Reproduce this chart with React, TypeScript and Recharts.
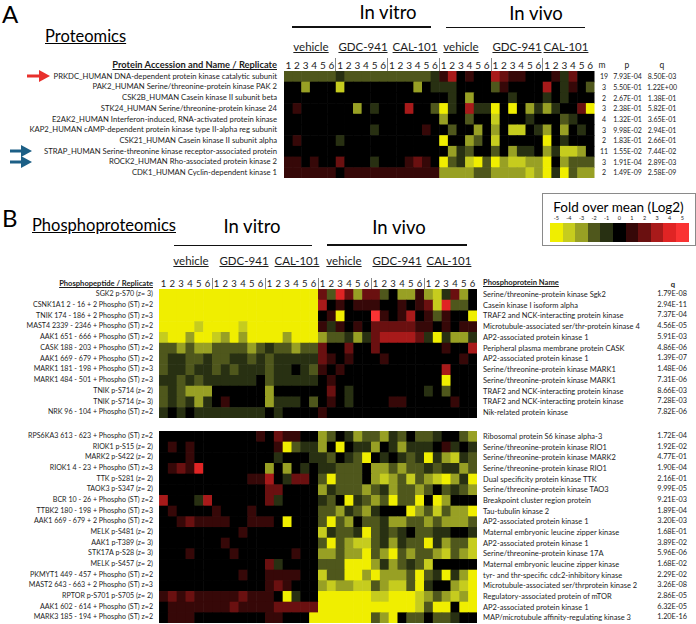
import React from 'react';
import { ScatterChart, Scatter, XAxis, YAxis, ReferenceLine } from 'recharts';

// level codes: a..e = -5..-1 (yellow side), 0 = black, 1..5 = red side
const LEVEL_CODES = 'abcde012345';
const LEVEL_LABELS = ['-5', '-4', '-3', '-2', '-1', '0', '1', '2', '3', '4', '5'];
const LEVEL_COLORS = [
  '#f0ee00', '#c6cc1e', '#98a024', '#4f571c', '#283012', '#000000',
  '#360808', '#6a1010', '#a81a1a', '#e02424', '#fa3333',
];

const REPLICATES = ['1', '2', '3', '4', '5', '6'];
const GROUPS = ['vehicle', 'GDC-941', 'CAL-101', 'vehicle', 'GDC-941', 'CAL-101'];

// ---- panel A: proteomics ----
const proteinNames = [
  'PRKDC_HUMAN DNA-dependent protein kinase catalytic subunit',
  'PAK2_HUMAN Serine/threonine-protein kinase PAK 2',
  'CSK2B_HUMAN Casein kinase II subunit beta',
  'STK24_HUMAN Serine/threonine-protein kinase 24',
  'E2AK2_HUMAN Interferon-induced, RNA-activated protein kinase',
  'KAP2_HUMAN cAMP-dependent protein kinase type II-alpha reg subunit',
  'CSK21_HUMAN Casein kinase II subunit alpha',
  'STRAP_HUMAN Serine-threonine kinase receptor-associated protein',
  'ROCK2_HUMAN Rho-associated protein kinase 2',
  'CDK1_HUMAN Cyclin-dependent kinase 1',
];
const proteinM = ['19', '3', '2', '3', '4', '3', '2', '11', '3', '2'];
const proteinP = ['7.93E-04', '5.50E-01', '2.67E-01', '2.38E-01', '1.32E-01', '9.98E-02', '1.83E-01', '1.55E-02', '1.91E-04', '1.49E-09'];
const proteinQ = ['8.50E-03', '1.22E+00', '1.38E-01', '5.82E-01', '3.65E-01', '2.94E-01', '2.66E-01', '7.44E-02', '2.89E-03', '2.58E-09'];
const proteinCells = [
  'dddddd' + 'eddddd' + 'ddddde' + '130100' + '321100' + '01e200',
  '00c000' + 'b00000' + '000c0e' + 'ee0000' + 'd10000' + '30e10d',
  '000000' + '000000' + '000000' + '0e0c00' + '00e000' + 'e0e000',
  '010000' + '00c0e0' + '00300d' + 'ae03ee' + 'a0a0ce' + 'ce002a',
  '000000' + '000000' + '000000' + 'c00d00' + 'b000e0' + '00de00',
  '000000' + '0000e0' + '000010' + '0d00c0' + 'c0bb0e' + 'c0c0e0',
  '010000' + 'e00000' + '000000' + 'a00cd0' + 'b00000' + 'a0e000',
  '000000' + '000000' + '000000' + '0ced00' + 'd0cee0' + 'cebbc0',
  '110100' + '2000e0' + '001210' + 'adebad' + 'acbbcc' + 'a0cddd',
  '111111' + '011111' + '111111' + 'ccccdd' + 'ccccbc' + 'aeadcc',
];

// ---- panel B: phosphoproteomics, upper block ----
const topPeptides = [
  'SGK2 p-S70 (z= 3)',
  'CSNK1A1 2 - 16 + 2 Phospho (ST) z=2',
  'TNIK 174 - 186 + 2 Phospho (ST) z=3',
  'MAST4 2339 - 2346 + Phospho (ST) z=2',
  'AAK1 651 - 666 + Phospho (ST) z=2',
  'CASK 188 - 203 + Phospho (ST) z=2',
  'AAK1 669 - 679 + Phospho (ST) z=2',
  'MARK1 181 - 198 + Phospho (ST) z=3',
  'MARK1 484 - 501 + Phospho (ST) z=3',
  'TNIK p-S714 (z= 2)',
  'TNIK p-S714 (z= 3)',
  'NRK 96 - 104 + Phospho (ST) z=2',
];
const topProteins = [
  'Serine/threonine-protein kinase Sgk2',
  'Casein kinase I isoform alpha',
  'TRAF2 and NCK-interacting protein kinase',
  'Microtubule-associated ser/thr-protein kinase 4',
  'AP2-associated protein kinase 1',
  'Peripheral plasma membrane protein CASK',
  'AP2-associated protein kinase 1',
  'Serine/threonine-protein kinase MARK1',
  'Serine/threonine-protein kinase MARK1',
  'TRAF2 and NCK-interacting protein kinase',
  'TRAF2 and NCK-interacting protein kinase',
  'Nik-related protein kinase',
];
const topQ = ['1.79E-08', '2.94E-11', '7.37E-04', '4.56E-05', '5.91E-03', '4.86E-06', '1.39E-07', '1.48E-06', '7.31E-06', '8.66E-03', '7.28E-03', '7.82E-06'];
const topCells = [
  'aaaaaa' + 'aaaaaa' + 'aaaaaa' + '2d42c2' + '2d0cc1' + 'cbe2c0',
  'aaaaaa' + 'aaaaaa' + 'aaaaaa' + '301011' + '100101' + '2b4dd0',
  'aaaaaa' + 'aaaaaa' + 'aaaaaa' + '01a000' + '510130' + '1d100a',
  'aaaaba' + 'aaabaa' + 'aaaaaa' + '1e1010' + '222221' + '101011',
  'baacaa' + 'bcacaa' + 'aacaaa' + 'cddece' + '233332' + 'eaecce',
  'ddcdcc' + 'ddddcd' + 'eddcdd' + '200200' + '200000' + '001003',
  'deedde' + 'ddeede' + 'deeeee' + '210100' + '010000' + '000010',
  'deedee' + 'dedeee' + 'dee0ed' + '101000' + '000000' + '003000',
  'eedede' + 'eeeee0' + 'deeeee' + '010000' + '000000' + '00a000',
  'dedccc' + '000000' + 'c00000' + '020e00' + '000000' + 'e0d000',
  'dedece' + '010000' + 'ceee0d' + '010e00' + '001100' + '000100',
  'e0e0ee' + 'eeeeee' + '0e0000' + '100000' + '000000' + '000000',
];

// ---- panel B: lower block ----
const bottomPeptides = [
  'RPS6KA3 613 - 623 + Phospho (ST) z=2',
  'RIOK1 p-S15 (z= 2)',
  'MARK2 p-S422 (z= 2)',
  'RIOK1 4 - 23 + Phospho (ST) z=3',
  'TTK p-S281 (z= 2)',
  'TAOK3 p-S347 (z= 2)',
  'BCR 10 - 26 + Phospho (ST) z=2',
  'TTBK2 180 - 198 + Phospho (ST) z=3',
  'AAK1 669 - 679 + 2 Phospho (ST) z=2',
  'MELK p-S481 (z= 2)',
  'AAK1 p-T389 (z= 3)',
  'STK17A p-S28 (z= 3)',
  'MELK p-S457 (z= 2)',
  'PKMYT1 449 - 457 + Phospho (ST) z=2',
  'MAST2 643 - 663 + 2 Phospho (ST) z=3',
  'RPTOR p-S701 p-S705 (z= 2)',
  'AAK1 602 - 614 + Phospho (ST) z=2',
  'MARK3 185 - 194 + Phospho (ST) z=2',
];
const bottomProteins = [
  'Ribosomal protein S6 kinase alpha-3',
  'Serine/threonine-protein kinase RIO1',
  'Serine/threonine-protein kinase MARK2',
  'Serine/threonine-protein kinase RIO1',
  'Dual specificity protein kinase TTK',
  'Serine/threonine-protein kinase TAO3',
  'Breakpoint cluster region protein',
  'Tau-tubulin kinase 2',
  'AP2-associated protein kinase 1',
  'Maternal embryonic leucine zipper kinase',
  'AP2-associated protein kinase 1',
  'Serine/threonine-protein kinase 17A',
  'Maternal embryonic leucine zipper kinase',
  'tyr- and thr-specific cdc2-inhibitory kinase',
  'Microtubule-associated ser/thrprotein kinase 2',
  'Regulatory-associated protein of mTOR',
  'AP2-associated protein kinase 1',
  'MAP/microtubule affinity-regulating kinase 3',
];
const bottomQ = ['1.72E-04', '1.92E-02', '4.77E-01', '1.90E-04', '2.16E-01', '9.99E-05', '9.21E-03', '1.89E-04', '3.20E-03', '1.68E-01', '3.89E-02', '5.96E-06', '1.68E-02', '2.29E-02', '3.26E-08', '2.86E-05', '6.32E-05', '1.20E-16'];
const bottomCells = [
  '000000' + '000001' + '021100' + 'cd0ecd' + 'dced0d' + 'de00dc',
  '010100' + '000000' + '01adee' + 'c0a0ee' + 'c0ecee' + 'e01e0e',
  '000100' + '000000' + '0e000e' + 'ed0eda' + '0e0ede' + 'aecbed',
  '012140' + '000000' + 'c0c0e0' + 'eeddd0' + 'ccdcdd' + 'edeecd',
  '000000' + '000011' + '30e220' + 'daddd0' + 'cbcdbd' + 'cbacea',
  '000000' + '000000' + '220000' + 'cedddc' + 'decddc' + 'd0dedc',
  '3000e3' + '000000' + '2e0000' + 'ed0aed' + 'cdadda' + '0ac000',
  '010000' + '100010' + '000000' + 'ddcedc' + 'e000ac' + 'dbdcca',
  '001211' + '110011' + '10a000' + 'dadc0d' + 'deccdd' + 'cdcccd',
  '000000' + '000100' + '000000' + 'beddea' + 'dede0d' + 'dee00e',
  '000000' + '010000' + '000000' + 'dadcbb' + 'decedd' + 'aecddb',
  '000100' + '001000' + '000100' + 'ccdcca' + 'dcadcd' + 'dcbdcb',
  '000000' + '000000' + '2e0000' + 'dddaaa' + 'cecded' + 'b00000',
  '000000' + '000100' + '111100' + 'bddaac' + 'acccda' + 'deaeca',
  '000000' + '000000' + '121000' + 'cbccbb' + 'dcbbda' + 'e00cba',
  '121211' + '111211' + '10ae00' + 'aaaaaa' + 'bbaaab' + 'cdcbca',
  '011111' + '112111' + '122222' + 'aaaaaa' + 'aaaaab' + 'daa0aa',
  '011100' + '000000' + '11000a' + 'aaaaaa' + 'dca0dd' + '0dde00',
];

const FONT = 'Lato, "Open Sans", sans-serif';
const INK = '#1c1c1c';

type TxtProps = {
  x: number;
  y: number;
  children: React.ReactNode;
  size?: number;
  anchor?: 'start' | 'middle' | 'end';
  bold?: boolean;
  underline?: boolean;
  color?: string;
};

function Txt({ x, y, children, size = 9, anchor = 'start', bold, underline, color = INK }: TxtProps) {
  const tx = anchor === 'middle' ? '-50%' : anchor === 'end' ? '-100%' : '0';
  return (
    <div
      style={{
        position: 'absolute',
        left: x,
        top: y - size * 0.6,
        fontSize: size,
        lineHeight: `${size * 1.2}px`,
        whiteSpace: 'nowrap',
        transform: `translateX(${tx})`,
        fontWeight: bold ? 700 : 400,
        textDecoration: underline ? 'underline' : 'none',
        color,
      }}
    >
      {children}
    </div>
  );
}

function HLine({ x1, x2, y }: { x1: number; x2: number; y: number }) {
  return <div style={{ position: 'absolute', left: x1, top: y, width: x2 - x1, height: 1.5, background: '#111' }} />;
}

function VLine({ x, y1, y2, color = '#888' }: { x: number; y1: number; y2: number; color?: string }) {
  return <div style={{ position: 'absolute', left: x, top: y1, width: 1, height: y2 - y1, background: color }} />;
}

type HeatProps = { cells: string[]; left: number; top: number; width: number; height: number; separators?: boolean };

function Heatmap({ cells, left, top, width, height, separators }: HeatProps) {
  const nRows = cells.length;
  const cw = width / 36;
  const ch = height / nRows;
  const data: { col: number; row: number; level: number }[] = [];
  cells.forEach((line, r) => {
    line.split('').forEach((code, c) => {
      data.push({ col: c + 0.5, row: r + 0.5, level: LEVEL_CODES.indexOf(code) });
    });
  });
  return (
    <div style={{ position: 'absolute', left, top }}>
      <ScatterChart width={width} height={height} margin={{ top: 0, right: 0, bottom: 0, left: 0 }}>
        <XAxis type="number" dataKey="col" domain={[0, 36]} allowDataOverflow hide />
        <YAxis type="number" dataKey="row" domain={[0, nRows]} allowDataOverflow reversed hide />
        <Scatter
          data={data}
          isAnimationActive={false}
          shape={(p: any) => (
            <rect
              x={p.cx - cw / 2}
              y={p.cy - ch / 2}
              width={cw + 0.6}
              height={ch + 0.6}
              fill={LEVEL_COLORS[p.payload.level]}
            />
          )}
        />
        {separators &&
          [6, 12, 18, 24, 30].map((x) => (
            <ReferenceLine key={x} x={x} stroke="#5a5a5a" strokeWidth={1} ifOverflow="visible" />
          ))}
      </ScatterChart>
    </div>
  );
}

function ReplicateRow({ left, width, y, size }: { left: number; width: number; y: number; size: number }) {
  const cw = width / 36;
  const items: React.ReactNode[] = [];
  for (let g = 0; g < 6; g++) {
    REPLICATES.forEach((r, i) => {
      const c = g * 6 + i;
      items.push(
        <Txt key={c} x={left + (c + 0.5) * cw} y={y} size={size} anchor="middle">
          {r}
        </Txt>
      );
    });
  }
  return <>{items}</>;
}

function GroupSeparators({ left, width, y1, y2 }: { left: number; width: number; y1: number; y2: number }) {
  return (
    <>
      {[1, 2, 3, 4, 5].map((k) => (
        <VLine key={k} x={left + (k * width) / 6 - 0.5} y1={y1} y2={y2} />
      ))}
    </>
  );
}

function Arrow({ x1, x2, y, color }: { x1: number; x2: number; y: number; color: string }) {
  return (
    <svg style={{ position: 'absolute', left: x1, top: y - 6 }} width={x2 - x1} height={12}>
      <rect x={0} y={4.5} width={x2 - x1 - 9} height={3} fill={color} />
      <polygon points={`${x2 - x1 - 11},0 ${x2 - x1},6 ${x2 - x1 - 11},12`} fill={color} />
    </svg>
  );
}

// layout
const A = { left: 284, top: 71, width: 310.5, rowH: 10.7 };
const BT = { left: 159, top: 289, width: 318, rowH: 10.75 };
const BB = { left: 159, top: 431, width: 318, rowH: 10.67 };

export default function App() {
  const aGroupX = [311, 363, 415, 461, 517, 566];
  const bGroupX = [191, 244, 297, 344, 397, 449];
  return (
    <div
      style={{
        position: 'absolute',
        left: 0,
        top: 0,
        width: 696,
        height: 624,
        overflow: 'hidden',
        background: '#fff',
        fontFamily: FONT,
        color: INK,
      }}
    >
      {/* ---------- Panel A ---------- */}
      <Txt x={2} y={14} size={24} color="#000">A</Txt>
      <Txt x={45} y={37} size={16.5} underline color="#000">Proteomics</Txt>
      <Txt x={388} y={12} size={18.5} anchor="middle" color="#000">In vitro</Txt>
      <Txt x={536} y={13} size={18.5} anchor="middle" color="#000">In vivo</Txt>
      <HLine x1={292} x2={431} y={26} />
      <HLine x1={446} x2={585} y={26.5} />
      {GROUPS.map((g, i) => (
        <Txt key={'ag' + i} x={aGroupX[i]} y={47} size={11.5} anchor="middle" underline>
          {g}
        </Txt>
      ))}
      <Txt x={277} y={65} size={9.3} anchor="end" bold underline>
        Protein Accession and Name / Replicate
      </Txt>
      <ReplicateRow left={A.left} width={A.width} y={65} size={10} />
      <GroupSeparators left={A.left} width={A.width} y1={58} y2={71} />
      <Txt x={602} y={65} size={8.5} anchor="middle">m</Txt>
      <Txt x={627} y={65} size={8.5} anchor="middle">p</Txt>
      <Txt x={662} y={65} size={8.5} anchor="middle">q</Txt>
      <Heatmap cells={proteinCells} left={A.left} top={A.top} width={A.width} height={A.rowH * proteinCells.length} />
      {proteinNames.map((n, i) => {
        const y = A.top + (i + 0.5) * A.rowH;
        return (
          <React.Fragment key={'pn' + i}>
            <Txt x={277} y={y} size={7.7} anchor="end">{n}</Txt>
            <Txt x={604} y={y} size={7} anchor="middle">{proteinM[i]}</Txt>
            <Txt x={627.5} y={y} size={7} anchor="middle">{proteinP[i]}</Txt>
            <Txt x={662} y={y} size={7} anchor="middle">{proteinQ[i]}</Txt>
          </React.Fragment>
        );
      })}
      <Arrow x1={27} x2={50} y={A.top + 0.5 * A.rowH} color="#e8302c" />
      <Arrow x1={10} x2={32} y={A.top + 7.5 * A.rowH} color="#1c5f86" />
      <Arrow x1={10} x2={32} y={A.top + 8.5 * A.rowH} color="#1c5f86" />

      {/* ---------- Panel B ---------- */}
      <Txt x={2} y={218} size={24} color="#000">B</Txt>
      <Txt x={32} y={226} size={16.5} underline color="#000">Phosphoproteomics</Txt>
      <Txt x={252} y={226} size={18.5} anchor="middle" color="#000">In vitro</Txt>
      <Txt x={399} y={227} size={18.5} anchor="middle" color="#000">In vivo</Txt>
      <HLine x1={174} x2={312} y={244.5} />
      <HLine x1={327} x2={467} y={244} />
      {GROUPS.map((g, i) => (
        <Txt key={'bg' + i} x={bGroupX[i]} y={261} size={11.5} anchor="middle" underline>
          {g}
        </Txt>
      ))}
      <Txt x={153} y={284} size={7.6} anchor="end" bold underline>
        Phosphopeptide / Replicate
      </Txt>
      <ReplicateRow left={BT.left} width={BT.width} y={284} size={9.5} />
      <GroupSeparators left={BT.left} width={BT.width} y1={278} y2={289} />
      <Txt x={483} y={283} size={7.6} bold underline>Phosphoprotein Name</Txt>
      <Txt x={673} y={285} size={7.6} anchor="middle" bold>q</Txt>

      <Heatmap cells={topCells} left={BT.left} top={BT.top} width={BT.width} height={BT.rowH * topCells.length} separators />
      {topPeptides.map((n, i) => {
        const y = BT.top + (i + 0.5) * BT.rowH;
        return (
          <React.Fragment key={'tp' + i}>
            <Txt x={153} y={y} size={7.1} anchor="end">{n}</Txt>
            <Txt x={483} y={y} size={7.5}>{topProteins[i]}</Txt>
            <Txt x={687} y={y} size={7.3} anchor="end">{topQ[i]}</Txt>
          </React.Fragment>
        );
      })}

      <Heatmap cells={bottomCells} left={BB.left} top={BB.top} width={BB.width} height={BB.rowH * bottomCells.length} separators />
      {bottomPeptides.map((n, i) => {
        const y = BB.top + (i + 0.5) * BB.rowH;
        return (
          <React.Fragment key={'bp' + i}>
            <Txt x={153} y={y} size={7.1} anchor="end">{n}</Txt>
            <Txt x={483} y={y} size={7.5}>{bottomProteins[i]}</Txt>
            <Txt x={687} y={y} size={7.3} anchor="end">{bottomQ[i]}</Txt>
          </React.Fragment>
        );
      })}

      {/* ---------- colour key ---------- */}
      <div style={{ position: 'absolute', left: 542, top: 193, width: 152, height: 51, border: '1px solid #8a8a8a' }} />
      <Txt x={618.5} y={207} size={13.5} anchor="middle" color="#000">Fold over mean (Log2)</Txt>
      {LEVEL_COLORS.map((c, i) => (
        <React.Fragment key={'lk' + i}>
          <div style={{ position: 'absolute', left: 550 + i * 12.6, top: 223, width: 12.9, height: 19, background: c }} />
          <Txt x={550 + (i + 0.5) * 12.6} y={218} size={5.5} anchor="middle">{LEVEL_LABELS[i]}</Txt>
        </React.Fragment>
      ))}
    </div>
  );
}
